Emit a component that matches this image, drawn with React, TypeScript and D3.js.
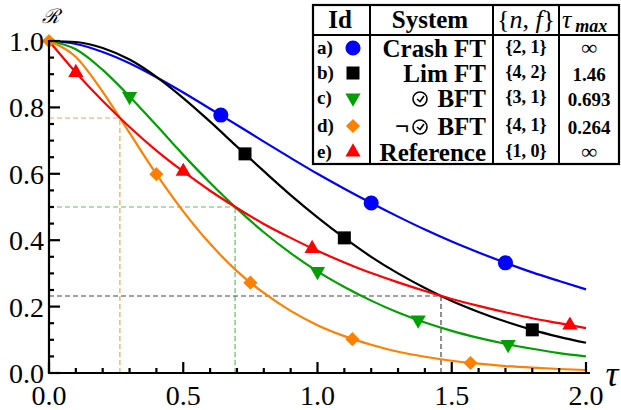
import React from 'react';
import * as d3 from 'd3';

// sample positions (tau) for the curves
const tauGrid = [0, 0.1, 0.2, 0.3, 0.4, 0.5, 0.6, 0.7, 0.8, 0.9, 1.0, 1.1, 1.2, 1.3, 1.4, 1.5, 1.6, 1.7, 1.8, 1.9, 2.0];
// curve values
const crashFT = [1, 0.991, 0.967, 0.933, 0.891, 0.845, 0.796, 0.747, 0.697, 0.648, 0.600, 0.555, 0.512, 0.471, 0.432, 0.396, 0.363, 0.332, 0.303, 0.277, 0.252];
const limFT = [1, 0.997, 0.979, 0.944, 0.892, 0.828, 0.757, 0.682, 0.608, 0.536, 0.469, 0.407, 0.350, 0.300, 0.256, 0.217, 0.184, 0.155, 0.130, 0.109, 0.091];
const clockBFT = [1, 0.975, 0.913, 0.833, 0.746, 0.657, 0.573, 0.495, 0.424, 0.361, 0.306, 0.259, 0.218, 0.182, 0.152, 0.127, 0.106, 0.088, 0.073, 0.060, 0.050];
const noClockBFT = [1, 0.952, 0.847, 0.723, 0.599, 0.487, 0.389, 0.307, 0.241, 0.187, 0.144, 0.111, 0.085, 0.064, 0.049, 0.037, 0.028, 0.021, 0.016, 0.012, 0.009];
const reference = [1, 0.905, 0.819, 0.741, 0.670, 0.607, 0.549, 0.497, 0.449, 0.407, 0.368, 0.333, 0.301, 0.273, 0.247, 0.223, 0.202, 0.183, 0.165, 0.150, 0.135];

// marker points
const crashMarkers: [number, number][] = [[0.64, 0.777], [1.2, 0.512], [1.7, 0.332]];
const limMarkers: [number, number][] = [[0.73, 0.660], [1.1, 0.407], [1.8, 0.130]];
const clockMarkers: [number, number][] = [[0.3, 0.833], [1.0, 0.306], [1.375, 0.160], [1.71, 0.086]];
const noClockMarkers: [number, number][] = [[0.0, 1.0], [0.4, 0.599], [0.75, 0.272], [1.13, 0.102], [1.57, 0.030]];
const refMarkers: [number, number][] = [[0.1, 0.905], [0.5, 0.607], [0.98, 0.375], [1.94, 0.144]];

// crossing guides: [tauMax, R]
const guides: [number, number, string][] = [[0.264, 0.768, '#f7a35c'], [0.693, 0.5, '#5cc25c'], [1.46, 0.232, '#444444']];

const xTicksMajor = [0, 0.5, 1.0, 1.5, 2.0];
const yTicksMajor = [0, 0.2, 0.4, 0.6, 0.8, 1.0];

// table
const rowIds = ['a)', 'b)', 'c)', 'd)', 'e)'];
const rowSystems = ['Crash FT', 'Lim FT', 'BFT', 'BFT', 'Reference'];
const rowNF = ['{2, 1}', '{4, 2}', '{3, 1}', '{4, 1}', '{1, 0}'];
const rowTauMax = ['∞', '1.46', '0.693', '0.264', '∞'];

const COLORS = ['#0000ff', '#000000', '#00a000', '#ff8000', '#ff0000'];
const FONT = "'Liberation Serif', 'DejaVu Serif', serif";

const W = 621, H = 410;
const x = d3.scaleLinear().domain([0, 2]).range([49, 586]);
const y = d3.scaleLinear().domain([0, 1]).range([373, 41]);

const series = [crashFT, limFT, clockBFT, noClockBFT, reference];
const markers = [crashMarkers, limMarkers, clockMarkers, noClockMarkers, refMarkers];

function markerPath(i: number): { d: string; rot: number } {
  const sym = d3.symbol();
  if (i === 0) return { d: sym.type(d3.symbolCircle).size(180)() as string, rot: 0 };
  if (i === 1) return { d: sym.type(d3.symbolSquare).size(169)() as string, rot: 0 };
  if (i === 2) return { d: sym.type(d3.symbolTriangle).size(100)() as string, rot: 180 };
  if (i === 3) return { d: sym.type(d3.symbolSquare).size(100)() as string, rot: 45 };
  return { d: sym.type(d3.symbolTriangle).size(100)() as string, rot: 0 };
}

function Clock({ cx, cy }: { cx: number; cy: number }) {
  return (
    <g>
      <circle cx={cx} cy={cy} r={7} fill="none" stroke="#000" strokeWidth={1.6} />
      <polyline points={`${cx - 3},${cy} ${cx},${cy + 2.5} ${cx + 4},${cy - 3}`} fill="none" stroke="#000" strokeWidth={1.6} />
    </g>
  );
}

export default function App() {
  const line = d3.line<number>().x((_, i) => x(tauGrid[i])).y((v) => y(v)).curve(d3.curveMonotoneX);
  const yMinor = d3.range(0, 21).map((k) => k * 0.05);
  const xMinor = d3.range(0, 21).map((k) => k * 0.1);
  const rowY = [48, 73, 98, 126, 152];
  return (
    <svg width={W} height={H} style={{ display: 'block', position: 'absolute', left: 0, top: 0, fontFamily: FONT }}>
      <rect width={W} height={H} fill="#fff" />
      {/* guides */}
      {guides.map(([t, r, c], i) => (
        <g key={i} stroke={c} strokeWidth={1.2} strokeDasharray="5,3" fill="none">
          <line x1={x(t)} x2={x(t)} y1={y(0)} y2={y(r)} />
          <line x1={x(0)} x2={x(t)} y1={y(r)} y2={y(r)} />
        </g>
      ))}
      {/* curves */}
      {series.map((s, i) => (
        <path key={i} d={line(s) as string} fill="none" stroke={COLORS[i]} strokeWidth={2.2} />
      ))}
      {/* markers */}
      {markers.map((ms, i) => {
        const m = markerPath(i);
        return ms.map(([t, r], j) => (
          <path key={`${i}-${j}`} d={m.d} fill={COLORS[i]} transform={`translate(${x(t)},${y(r)}) rotate(${m.rot})`} />
        ));
      })}
      {/* axes */}
      <g stroke="#000" strokeWidth={2.2}>
        <line x1={x(0)} x2={x(0)} y1={y(0) + 1} y2={y(1) - 1} />
        <line x1={x(0) - 1} x2={x(2) + 4} y1={y(0)} y2={y(0)} />
        {yMinor.map((v, k) => (
          <line key={`ym${k}`} x1={x(0)} x2={x(0) + (k % 4 === 0 ? 11 : 5)} y1={y(v)} y2={y(v)} />
        ))}
        {xMinor.map((v, k) => (
          <line key={`xm${k}`} x1={x(v)} x2={x(v)} y1={y(0)} y2={y(0) - (k % 5 === 0 ? 11 : 5)} />
        ))}
      </g>
      <g fontSize={28} fill="#000">
        {yTicksMajor.map((v) => (
          <text key={`yl${v}`} x={44} y={y(v) + 10} textAnchor="end">{d3.format('.1f')(v)}</text>
        ))}
        {xTicksMajor.map((v) => (
          <text key={`xl${v}`} x={x(v)} y={405} textAnchor="middle">{d3.format('.1f')(v)}</text>
        ))}
      </g>
      <text x={50} y={23} fontSize={20} fontStyle="italic" textAnchor="middle">ℛ</text>
      <text x={612} y={386} fontSize={36} fontStyle="italic" textAnchor="middle">τ</text>
      {/* table */}
      <g>
        <rect x={313} y={5} width={306} height={159} fill="#fff" stroke="#000" strokeWidth={2.2} />
        <g stroke="#000" strokeWidth={2}>
          <line x1={370} x2={370} y1={5} y2={164} />
          <line x1={493} x2={493} y1={5} y2={164} />
          <line x1={559} x2={559} y1={5} y2={164} />
          <line x1={313} x2={619} y1={35} y2={35} />
        </g>
        <g fontWeight="bold" fontSize={25}>
          <text x={340} y={28} textAnchor="middle">Id</text>
          <text x={430} y={28} textAnchor="middle">System</text>
        </g>
        <text x={526} y={28} textAnchor="middle" fontSize={26}>
          <tspan>{'{'}</tspan><tspan fontStyle="italic">n</tspan><tspan>, </tspan><tspan fontStyle="italic">f</tspan><tspan>{'}'}</tspan>
        </text>
        <text x={562} y={28} fontSize={26}>
          <tspan fontStyle="italic">τ</tspan><tspan dx={4} dy={4} fontSize={18} fontStyle="italic" fontWeight="bold">max</tspan>
        </text>
        {rowIds.map((id, i) => {
          const m = markerPath(i);
          const cy = rowY[i];
          return (
            <g key={id}>
              <text x={317} y={cy + 6} fontSize={19} fontWeight="bold">{id}</text>
              <path d={m.d} fill={COLORS[i]} transform={`translate(353,${cy}) rotate(${m.rot})`} />
              <text x={486} y={cy + 9} fontSize={25} fontWeight="bold" textAnchor="end">{rowSystems[i]}</text>
              {i === 2 && <Clock cx={420} cy={cy + 1} />}
              {i === 3 && (
                <g>
                  <text x={395} y={cy + 9} fontSize={25} fontWeight="bold">¬</text>
                  <Clock cx={420} cy={cy + 1} />
                </g>
              )}
              <text x={526} y={cy + 5} fontSize={18} fontWeight="bold" textAnchor="middle">{rowNF[i]}</text>
              <text x={589} y={cy + (rowTauMax[i] === '∞' ? 7 : 8)} fontSize={rowTauMax[i] === '∞' ? 22 : 19} fontWeight="bold" textAnchor="middle">{rowTauMax[i]}</text>
            </g>
          );
        })}
      </g>
    </svg>
  );
}
